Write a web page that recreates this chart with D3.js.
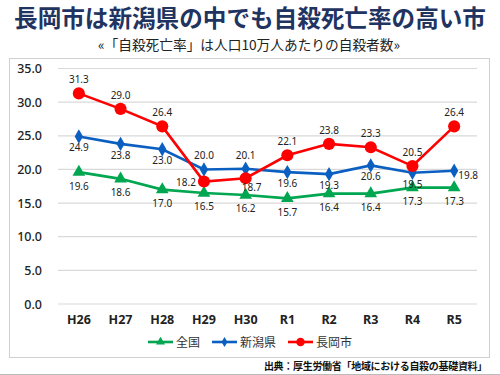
<!DOCTYPE html>
<html>
<head>
<meta charset="utf-8">
<script src="https://cdn.jsdelivr.net/npm/d3@7"></script>
<style>
  body { margin: 0; background: #fff; }
  svg { display: block; font-family: "Noto Sans CJK JP", "Noto Sans", sans-serif; }
</style>
</head>
<body>
<svg id="chart" width="500" height="375"></svg>
<script>
// データ（年度ごとの自殺死亡率）
const years = ["H26", "H27", "H28", "H29", "H30", "R1", "R2", "R3", "R4", "R5"];
const zenkoku = [19.6, 18.6, 17.0, 16.5, 16.2, 15.7, 16.4, 16.4, 17.3, 17.3];
const niigata = [24.9, 23.8, 23.0, 20.0, 20.1, 19.6, 19.3, 20.6, 19.5, 19.8];
const nagaoka = [31.3, 29.0, 26.4, 18.2, 18.7, 22.1, 23.8, 23.3, 20.5, 26.4];
const yTicks = [0, 5, 10, 15, 20, 25, 30, 35];

// ラベルの置き場所
const zenkokuPos = ["b", "b", "b", "b", "b", "b", "b", "b", "b", "b"];
const niigataPos = ["b", "b", "b", "t", "t", "b", "b", "b", "b", "r"];
const nagaokaPos = ["t", "t", "t", "l", "br", "t", "t", "t", "t", "t"];

const svg = d3.select("#chart");

// タイトル
svg.append("text")
  .attr("x", 250).attr("y", 27)
  .attr("text-anchor", "middle")
  .attr("font-size", 23.6).attr("font-weight", "bold")
  .attr("fill", "#1f3461")
  .text("長岡市は新潟県の中でも自殺死亡率の高い市");

svg.append("text")
  .attr("x", 249).attr("y", 50)
  .attr("text-anchor", "middle")
  .attr("font-size", 13.7).attr("fill", "#222")
  .text("«「自殺死亡率」は人口10万人あたりの自殺者数»");

// 枠
svg.append("rect")
  .attr("x", 9.5).attr("y", 58.5)
  .attr("width", 480).attr("height", 299)
  .attr("fill", "#fff").attr("stroke", "#d0d0d0");

const xScale = d3.scaleBand()
  .domain(years)
  .range([58, 475]);

const yScale = d3.scaleLinear()
  .domain([0, 35])
  .range([304, 68.5]);

// 横グリッド
svg.append("g")
  .selectAll("line")
  .data(yTicks)
  .join("line")
  .attr("x1", 58).attr("x2", 477)
  .attr("y1", d => yScale(d)).attr("y2", d => yScale(d))
  .attr("stroke", "#d9d9d9").attr("stroke-width", 1.2);

// y軸
const yAxis = d3.axisLeft(yScale).tickValues(yTicks).tickFormat(d3.format(".1f")).tickSize(0).tickPadding(0);
svg.append("g")
  .attr("transform", "translate(42,0)")
  .call(yAxis)
  .call(g => g.select(".domain").remove())
  .call(g => g.selectAll("text")
    .attr("font-size", 12.5).attr("fill", "#222").attr("font-weight", 500)
    .attr("font-family", "\"Noto Sans\", sans-serif"));

// x軸
const xAxis = d3.axisBottom(xScale).tickSize(0).tickPadding(0);
svg.append("g")
  .attr("transform", "translate(0,315)")
  .call(xAxis)
  .call(g => g.select(".domain").remove())
  .call(g => g.selectAll("text")
    .attr("font-size", 12.5).attr("fill", "#222").attr("font-weight", "bold")
    .attr("font-family", "\"Noto Sans\", sans-serif"));

const cx = d => xScale(d) + xScale.bandwidth() / 2;

const line = d3.line()
  .x((d, i) => cx(years[i]))
  .y(d => yScale(d));

const series = [
  { name: "全国", values: zenkoku, color: "#00a650", shape: d3.symbolTriangle, size: 70, pos: zenkokuPos, below: 17.5 },
  { name: "新潟県", values: niigata, color: "#0b5fc0", shape: d3.symbolDiamond, size: 60, pos: niigataPos, below: 15 },
  { name: "長岡市", values: nagaoka, color: "#ff0000", shape: d3.symbolCircle, size: 115, pos: nagaokaPos, below: 13 }
];

series.forEach(s => {
  svg.append("path")
    .datum(s.values)
    .attr("d", line)
    .attr("fill", "none")
    .attr("stroke", s.color)
    .attr("stroke-width", 2.6);

  svg.append("g")
    .selectAll("path")
    .data(s.values)
    .join("path")
    .attr("d", d3.symbol().type(s.shape).size(s.size))
    .attr("transform", (d, i) => `translate(${cx(years[i])},${yScale(d)})`)
    .attr("fill", s.color);
});

// データラベル
series.forEach(s => {
  svg.append("g")
    .selectAll("text")
    .data(s.values)
    .join("text")
    .attr("x", (d, i) => {
      const p = s.pos[i];
      if (p === "l") return cx(years[i]) - 18;
      if (p === "r") return cx(years[i]) + 14;
      if (p === "br") return cx(years[i]) + 6;
      return cx(years[i]);
    })
    .attr("y", (d, i) => {
      const p = s.pos[i];
      const y = yScale(d);
      if (p === "t") return y - 10;
      if (p === "l") return y + 4;
      if (p === "r") return y + 8.5;
      if (p === "br") return y + 13;
      return y + s.below;
    })
    .attr("text-anchor", "middle")
    .attr("font-size", 10).attr("fill", "#222")
    .attr("font-family", "\"Noto Sans\", sans-serif")
    .text(d => d.toFixed(1));
});

// 凡例
const legendX = [148, 212, 288];
const legend = svg.append("g");
series.forEach((s, i) => {
  const g = legend.append("g").attr("transform", `translate(${legendX[i]},342)`);
  g.append("line").attr("x1", 0).attr("x2", 25).attr("stroke", s.color).attr("stroke-width", 2.6);
  g.append("path")
    .attr("d", d3.symbol().type(s.shape).size(s.size * 0.5))
    .attr("transform", "translate(12.5,0)")
    .attr("fill", s.color);
  g.append("text")
    .attr("x", 28).attr("y", 4.5)
    .attr("font-size", 12).attr("fill", "#333")
    .text(s.name);
});

// 出典
svg.append("text")
  .attr("x", 487).attr("y", 370)
  .attr("text-anchor", "end")
  .attr("font-size", 10).attr("font-weight", "bold").attr("fill", "#111")
  .attr("letter-spacing", -0.3)
  .text("出典：厚生労働省「地域における自殺の基礎資料」");

svg.append("line")
  .attr("x1", 0).attr("x2", 500).attr("y1", 374.5).attr("y2", 374.5)
  .attr("stroke", "#bbb");
</script>
</body>
</html>
